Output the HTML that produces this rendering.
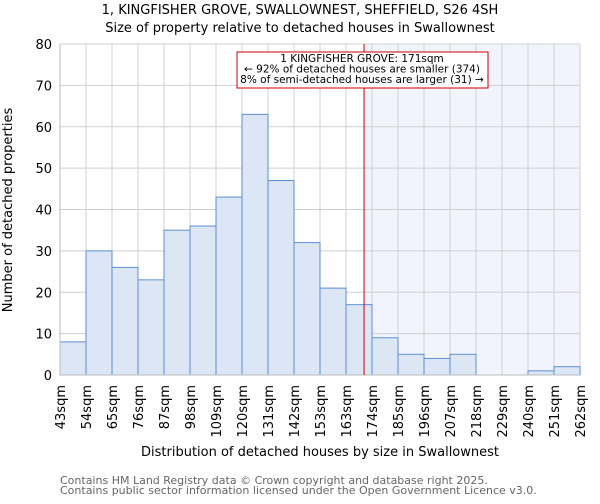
<!DOCTYPE html>
<html><head><meta charset="utf-8"><style>
body{margin:0;background:#fff;font-family:"DejaVu Sans","Liberation Sans",sans-serif;}
svg text{font-family:"DejaVu Sans","Liberation Sans",sans-serif;}
</style></head><body>
<svg id="chart" width="600" height="500" xmlns="http://www.w3.org/2000/svg">
<text x="300" y="14" text-anchor="middle" font-size="13">1, KINGFISHER GROVE, SWALLOWNEST, SHEFFIELD, S26 4SH</text>
<text x="300" y="32" text-anchor="middle" font-size="13">Size of property relative to detached houses in Swallownest</text>
<g id="plot"></g>
<text transform="translate(12,210) rotate(-90)" text-anchor="middle" font-size="13">Number of detached properties</text>
<text x="320" y="456" text-anchor="middle" font-size="13">Distribution of detached houses by size in Swallownest</text>
<text x="60" y="484" font-size="11" fill="#666">Contains HM Land Registry data © Crown copyright and database right 2025.</text>
<text x="60" y="494" font-size="11" fill="#666">Contains public sector information licensed under the Open Government Licence v3.0.</text>
</svg>
<script>
const binLabels=["43sqm","54sqm","65sqm","76sqm","87sqm","98sqm","109sqm","120sqm","131sqm","142sqm","153sqm","163sqm","174sqm","185sqm","196sqm","207sqm","218sqm","229sqm","240sqm","251sqm","262sqm"];
const counts=[8,30,26,23,35,36,43,63,47,32,21,17,9,5,4,5,0,0,1,2];
const yTicks=[0,10,20,30,40,50,60,70,80];
const propertySize=171;
const binStart=43, binWidth=11;
const X0=60,X1=580,Y0=375,Y1=44,YMAX=80;
const nb=counts.length;
const xs=v=>X0+(v-binStart)/(binWidth*nb)*(X1-X0);
const xi=i=>X0+i*(X1-X0)/nb;
const ys=v=>Y0-v/YMAX*(Y0-Y1);
const g=document.getElementById('plot');
const NS="http://www.w3.org/2000/svg";
function mk(t,a){const e=document.createElementNS(NS,t);for(const k in a)e.setAttribute(k,a[k]);g.appendChild(e);return e;}
const px=xs(propertySize)+1.5;
let e=mk('rect',{x:px,y:Y1,width:X1-px,height:Y0-Y1,fill:'#f1f4fc'});


for(let i=0;i<=nb;i++){const l=mk('line',{x1:xi(i),x2:xi(i),y1:Y1,y2:Y0,stroke:'#d0d0d0','stroke-width':1});

}
yTicks.forEach(t=>{const l=mk('line',{x1:X0,x2:X1,y1:ys(t),y2:ys(t),stroke:'#d0d0d0','stroke-width':1});


const tx=mk('text',{x:X0-8,y:ys(t)+5,'text-anchor':'end','font-size':13});tx.textContent=t;

});
counts.forEach((c,i)=>{if(c<=0)return;const r=mk('rect',{x:xi(i),y:ys(c),width:xi(i+1)-xi(i),height:Y0-ys(c),fill:'#dde6f4',stroke:'#5b8fd6','stroke-width':1});

});
binLabels.forEach((lab,i)=>{const x=xi(i);const t=mk('text',{transform:`translate(${x+5},385) rotate(-90)`,'text-anchor':'end','font-size':13});t.textContent=lab;

});
const ax=mk('line',{x1:X0,x2:X1,y1:Y0,y2:Y0,stroke:'#bbb'});


const ay=mk('line',{x1:X0,x2:X0,y1:Y1,y2:Y0,stroke:'#bbb'});


const rl=mk('line',{x1:px,x2:px,y1:Y1,y2:Y0,stroke:'#cc0000','stroke-width':1});


const box=mk('rect',{x:237,y:52,width:251,height:36,fill:'#fff',stroke:'#cc0000','stroke-width':1});


["1 KINGFISHER GROVE: 171sqm","← 92% of detached houses are smaller (374)","8% of semi-detached houses are larger (31) →"].forEach((s,k)=>{const t=mk('text',{x:362,y:62+k*10.5,'text-anchor':'middle','font-size':10.5});t.textContent=s;

});
</script>
</body></html>
